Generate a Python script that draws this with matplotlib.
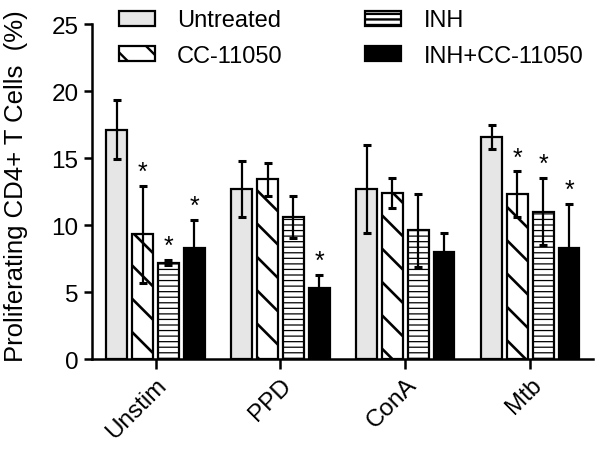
import matplotlib
matplotlib.use("Agg")
import matplotlib.pyplot as plt
import numpy as np

plt.rcParams['font.family'] = ['Liberation Sans', 'DejaVu Sans']
plt.rcParams['hatch.linewidth'] = 1.7

groups = ['Unstim', 'PPD', 'ConA', 'Mtb']
series = ['Untreated', 'CC-11050', 'INH', 'INH+CC-11050']

untreated = [17.1, 12.7, 12.7, 16.6]
untreated_err = [2.2, 2.1, 3.3, 0.9]
cc = [9.3, 13.4, 12.4, 12.3]
cc_err = [3.6, 1.2, 1.1, 1.7]
inh = [7.2, 10.6, 9.6, 11.0]
inh_err = [0.2, 1.6, 2.7, 2.5]
combo = [8.25, 5.3, 8.0, 8.3]
combo_err = [2.1, 1.0, 1.4, 3.3]

# significance marks (*) per series, per group
cc_sig = [True, False, False, True]
inh_sig = [True, False, False, True]
combo_sig = [True, True, False, True]
untreated_sig = [False, False, False, False]

values = [untreated, cc, inh, combo]
errors = [untreated_err, cc_err, inh_err, combo_err]
sigs = [untreated_sig, cc_sig, inh_sig, combo_sig]
fills = ['#e6e6e6', 'white', 'white', 'black']
hatches = [None, '\\', '---', None]
hatch_lw = [1.7, 1.9, 0.9, 1.7]

fig = plt.figure(figsize=(6, 4.52), dpi=100)
ax = fig.add_axes([0.153, 0.2035, 0.835, 0.741])

x = np.arange(len(groups))
width = 0.165
step = 0.207

for i in range(4):
    pos = x + (i - 1.5) * step
    with plt.rc_context({'hatch.linewidth': hatch_lw[i]}):
        ax.bar(pos, values[i], width, color=fills[i], edgecolor='black',
               hatch=hatches[i], linewidth=1.6, label=series[i], zorder=2)
    ax.errorbar(pos, values[i], yerr=errors[i], fmt='none', ecolor='black',
                elinewidth=1.6, capsize=3.2, capthick=2.2, zorder=3)
    for p, v, e, s in zip(pos, values[i], errors[i], sigs[i]):
        if s:
            ax.text(p, v + e + 0.15, '*', ha='center', va='bottom', fontsize=18)

ax.set_xlim(-0.51, 3.5)
ax.set_ylim(0, 25)
ax.set_yticks([0, 5, 10, 15, 20, 25])
ax.set_xticks(x)
ax.set_xticklabels(groups, rotation=45, ha='right', rotation_mode='anchor')
ax.tick_params(axis='both', labelsize=17.5, width=1.8, length=6)
ax.tick_params(axis='x', length=7)
for s in ['top', 'right']:
    ax.spines[s].set_visible(False)
for s in ['left', 'bottom']:
    ax.spines[s].set_linewidth(1.8)
ax.set_ylabel('Proliferating CD4+ T Cells  (%)', fontsize=18.5)
ax.yaxis.set_label_coords(-0.127, 0.52)

leg = ax.legend(ncol=2, loc='upper left', bbox_to_anchor=(119 / 600, 0.977),
                bbox_transform=fig.transFigure, frameon=False, fontsize=17,
                handlelength=1.53, handleheight=0.6, handletextpad=0.93,
                columnspacing=3.5, labelspacing=0.58, borderpad=0.0,
                borderaxespad=0.0)

fig.savefig('out.png', dpi=100)
